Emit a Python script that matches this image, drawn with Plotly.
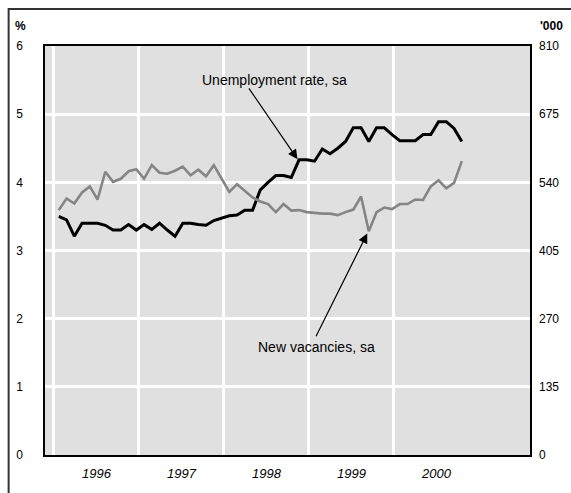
import plotly.graph_objects as go

unemployment = [3.50, 3.45, 3.21, 3.40, 3.40, 3.40, 3.37, 3.30, 3.30, 3.38,
                3.30, 3.38, 3.31, 3.40, 3.30, 3.21, 3.40, 3.40, 3.38, 3.37,
                3.44, 3.48, 3.51, 3.52, 3.59, 3.59, 3.89, 4.00, 4.10, 4.10,
                4.07, 4.33, 4.33, 4.31, 4.49, 4.42, 4.50, 4.60, 4.80, 4.80,
                4.60, 4.80, 4.80, 4.70, 4.61, 4.61, 4.61, 4.70, 4.70, 4.89,
                4.89, 4.79, 4.60]

vacancies = [485, 508, 498, 520, 532, 506, 561, 541, 547, 562,
             566, 547, 574, 559, 557, 563, 571, 554, 565, 552,
             574, 548, 521, 536, 522, 510, 502, 497, 481, 497,
             484, 485, 481, 479, 478, 478, 475, 481, 486, 512,
             443, 481, 490, 487, 497, 497, 506, 505, 532, 544,
             528, 539, 582]

years = ["1996", "1997", "1998", "1999", "2000"]

idx = list(range(len(unemployment)))

# year boundaries in units of observations
first_year_at = -0.63
pts_per_year = 10.97
year_lines = [first_year_at + k * pts_per_year for k in range(len(years))]
year_mid = [v + pts_per_year / 2 for v in year_lines]

FONT = "Liberation Sans, Arial, sans-serif"

fig = go.Figure()

fig.add_trace(go.Scatter(x=idx, y=vacancies, name="New vacancies, sa", mode="lines",
                         line=dict(color="#858585", width=2.6), yaxis="y2"))
fig.add_trace(go.Scatter(x=idx, y=unemployment, name="Unemployment rate, sa", mode="lines",
                         line=dict(color="#000000", width=3)))

fig.update_layout(
    autosize=True,
    margin=dict(l=45, r=33, t=46, b=28),
    paper_bgcolor="#ffffff",
    plot_bgcolor="#e0e0e0",
    showlegend=False,
    font=dict(family=FONT, size=12, color="#000000"),
    xaxis=dict(
        range=[-1.78, 60.8],
        tickmode="array", tickvals=year_mid, ticktext=years,
        tickfont=dict(size=13, style="italic"),
        showgrid=False, ticks="", zeroline=False,
        ticklabelstandoff=6,
        showline=True, linecolor="#000000", linewidth=1.5, mirror=True,
        minor=dict(tickmode="array", tickvals=year_lines, showgrid=True,
                   gridcolor="#ffffff", gridwidth=2.5, ticks=""),
    ),
    yaxis=dict(
        range=[0, 6], dtick=1, tick0=0,
        showgrid=True, gridcolor="#ffffff", gridwidth=2.5,
        zeroline=False, ticks="", ticklabelstandoff=18,
        showline=True, linecolor="#000000", linewidth=1.5, mirror=True,
    ),
    yaxis2=dict(
        range=[0, 810], dtick=135, tick0=0,
        overlaying="y", side="right",
        showgrid=False, zeroline=False, ticks="", ticklabelstandoff=8,
    ),
)

# unit labels
fig.add_annotation(text="<b>%</b>", xref="paper", yref="paper", x=-0.05, y=1.05,
                   xanchor="center", yanchor="middle", showarrow=False,
                   font=dict(size=12))
fig.add_annotation(text="<b>'000</b>", xref="paper", yref="paper", x=1.045, y=1.05,
                   xanchor="center", yanchor="middle", showarrow=False,
                   font=dict(size=12))

# series labels and arrows
fig.add_annotation(text="Unemployment rate, sa", x=27.8, y=5.5, showarrow=False,
                   font=dict(size=14))
fig.add_annotation(text="", x=30.8, y=4.34, ax=24.4, ay=5.40, axref="x", ayref="y",
                   showarrow=True, arrowhead=2, arrowsize=1.6, arrowwidth=1.2,
                   arrowcolor="#000000")

fig.add_annotation(text="New vacancies, sa", x=33.3, y=1.58, showarrow=False,
                   font=dict(size=14))
fig.add_annotation(text="", x=39.8, y=3.25, ax=33.1, ay=1.72, axref="x", ayref="y",
                   showarrow=True, arrowhead=2, arrowsize=1.6, arrowwidth=1.2,
                   arrowcolor="#000000")

# outer frame (starts 8px in from the top-left, runs off the right and bottom)
fig.add_shape(type="rect", xref="paper", yref="paper",
              x0=-0.075, x1=1.2, y0=-0.2, y1=1.0907,
              line=dict(color="#333333", width=2))

# figure fills the window exactly; no page margin, no mode bar
fig.write_html("out.html", default_width="100vw", default_height="100vh",
               config={"displayModeBar": False, "responsive": True},
               post_script="document.body.style.margin='0';"
                           "document.body.style.overflow='hidden';")
